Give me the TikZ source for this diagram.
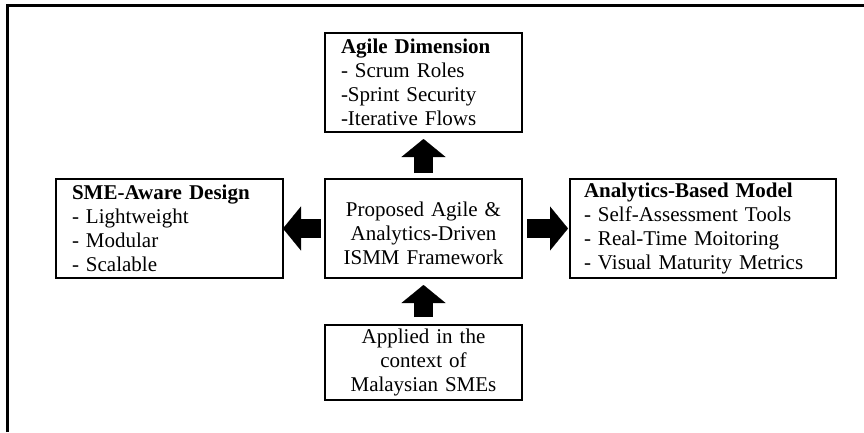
\documentclass[tikz,border=0pt]{standalone}
\usepackage{fontspec}
\setmainfont{Liberation Serif}
\usetikzlibrary{arrows.meta,positioning}
\newcommand{\boxfont}{\fontsize{21}{24}\selectfont}
\tikzset{
    frameblock/.style={draw, line width=1.6pt, outer sep=0pt, font=\boxfont, minimum height=99pt},
    listblock/.style={frameblock, align=left, inner xsep=16pt},
    centreblock/.style={frameblock, align=center, inner xsep=6pt, text width=185pt},
    blockarrow/.style={line width=19pt, -{Triangle[length=18pt, width=44pt, line width=0.1pt]}},
    outerline/.style={line width=2.4pt}
}

\begin{document}
\begin{tikzpicture}[node distance=47pt and 42pt]
        \useasboundingbox (0,0) rectangle (864pt,432pt);
        \draw[outerline] (7.5pt,0pt) -- (7.5pt,426.5pt) -- (864pt,426.5pt);
        \node[centreblock] (ism) at (423.5pt,203.5pt) {\mbox{}\\Proposed Agile \&\\Analytics-Driven\\ISMM Framework};
        \node[listblock, text width=165pt, above=of ism] (agile) {\textbf{Agile Dimension}\\- Scrum Roles\\-Sprint Security\\-Iterative Flows};
        \node[listblock, text width=195pt, left=of ism] (sme) {\textbf{SME-Aware Design}\\- Lightweight\\- Modular\\- Scalable};
        \node[listblock, inner xsep=14pt, text width=238pt, right=48pt of ism] (analytics) {\textbf{Analytics-Based Model}\\- Self-Assessment Tools\\- Real-Time Moitoring\\- Visual Maturity Metrics};
        \node[centreblock, minimum height=75pt, below=of ism] (context) {Applied in the\\context of\\Malaysian SMEs};
        \draw[blockarrow, shorten <=6pt, shorten >=7pt] (ism) -- (agile);
        \draw[blockarrow, shorten <=4pt] (ism) -- (sme);
        \draw[blockarrow, shorten <=5pt, shorten >=2pt] (ism) -- (analytics);
        \draw[blockarrow, shorten <=8pt, shorten >=7pt] (context) -- (ism);
    \end{tikzpicture}
\end{document}
